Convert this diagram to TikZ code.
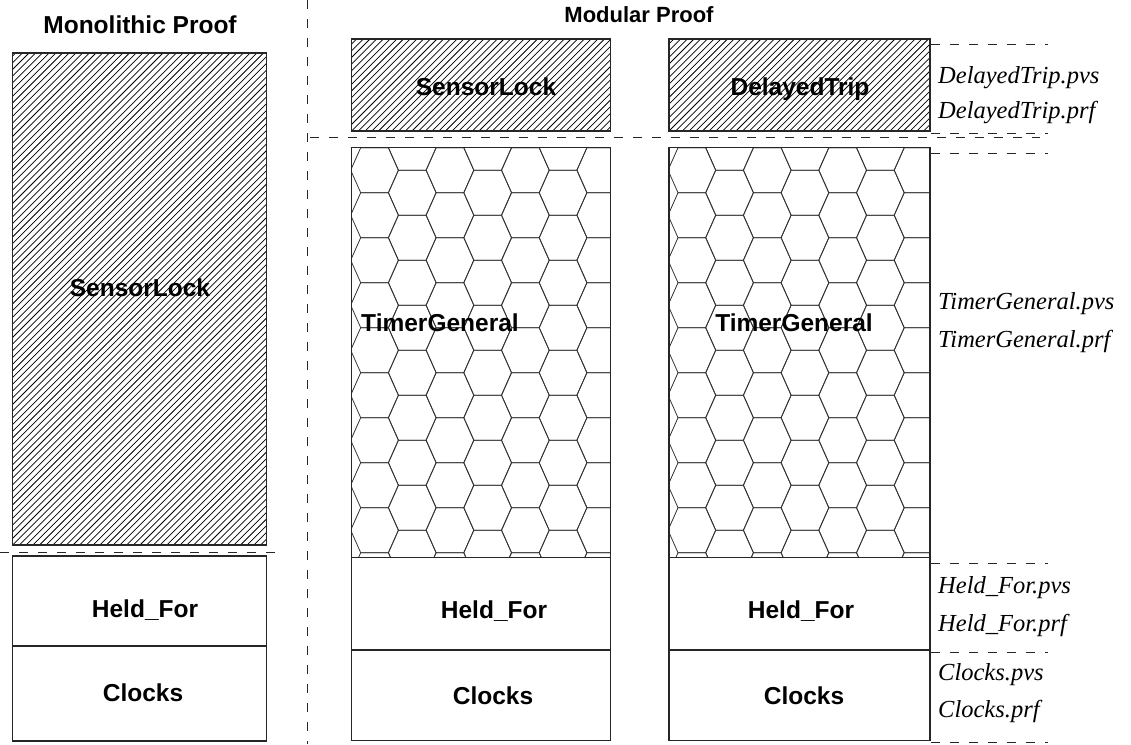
\documentclass[tikz,border=0pt]{standalone}
\usepackage{fontspec}
\setmainfont{Liberation Serif}
\newfontfamily\lsans{Liberation Sans}
\begin{document}
\begin{tikzpicture}[x=1pt, y=-1pt,
  box/.style={rectangle, draw=black!85, line width=1.2pt, inner sep=0pt, outer sep=0pt},
  hatchline/.style={line width=0.75pt, black},
  hexline/.style={line width=0.8pt, black!80},
  hatchbox/.style={box, path picture={
    \foreach \k in {-80,...,45}{
      \draw[hatchline] ([xshift=\k*6.7pt]path picture bounding box.south west) -- ++(520pt,520pt);
    }}},
  hexbox/.style={box, path picture={
    \foreach \i in {0,...,8}{
      \foreach \j in {-1,...,10}{
        \pgfmathsetmacro\hx{\i*37.7-1}
        \pgfmathsetmacro\hy{-22.5-mod(\i,2)*22.5-\j*45}
        \draw[hexline] ([shift={(\hx pt,\hy pt)}]path picture bounding box.north west)
          -- ++(10pt,22.5pt) -- ++(27.7pt,0pt) -- ++(10pt,-22.5pt)
          -- ++(-10pt,-22.5pt) -- ++(-27.7pt,0pt) -- cycle;
      }}}},
  lab/.style={font=\lsans\bfseries\fontsize{24.5}{29}\selectfont, inner sep=0pt, anchor=base},
  title/.style={font=\lsans\bfseries\fontsize{24.5}{29}\selectfont, inner sep=0pt, anchor=base},
  fname/.style={font=\itshape\fontsize{24.5}{29}\selectfont, inner sep=0pt, anchor=base west},
  sep/.style={dashed, dash pattern=on 9pt off 10pt, line width=1pt, black!85}
]
\useasboundingbox (0,0) rectangle (1131,744);

% --- monolithic column ---
\node[title] (tmono) at (140,33.3) {Monolithic Proof};
\node[hatchbox, minimum width=254pt, minimum height=492pt] (mSL) at (139.7,299) {};
\node[lab] (mSLt) at (140,296) {SensorLock};
\node[box, minimum width=254pt, minimum height=90pt] (mHF) at (139.7,601) {};
\node[box, minimum width=254pt, minimum height=95pt] (mCL) at (139.7,693.5) {};
\node[lab] (mHFt) at (145,617.7) {Held\_For};
\node[lab] (mCLt) at (143,701.7) {Clocks};

% --- modular columns ---
\node[title, font=\lsans\bfseries\fontsize{22}{26}\selectfont] (tmod) at (639,22.7) {Modular Proof};

\node[hatchbox, minimum width=259pt, minimum height=92pt] (aSL) at (481.2,85) {};
\node[lab] (aSLt) at (486,95) {SensorLock};
\node[hexbox, minimum width=259pt, minimum height=409.6pt] (aTG) at (481.2,352.5) {};
\node[lab] (aTGt) at (440,331) {TimerGeneral};
\node[box, minimum width=259pt, minimum height=92.7pt] (aHF) at (481.2,603.65) {};
\node[box, minimum width=259pt, minimum height=90.7pt] (aCL) at (481.2,695.35) {};
\node[lab] (aHFt) at (494,618) {Held\_For};
\node[lab] (aCLt) at (493,704) {Clocks};

\node[hatchbox, minimum width=261pt, minimum height=92pt] (bDT) at (799.5,85) {};
\node[lab] (bDTt) at (800,95) {DelayedTrip};
\node[hexbox, minimum width=261pt, minimum height=409.6pt] (bTG) at (799.5,352.5) {};
\node[lab] (bTGt) at (794,331) {TimerGeneral};
\node[box, minimum width=261pt, minimum height=92.7pt] (bHF) at (799.5,603.65) {};
\node[box, minimum width=261pt, minimum height=90.7pt] (bCL) at (799.5,695.35) {};
\node[lab] (bHFt) at (801,618) {Held\_For};
\node[lab] (bCLt) at (804,704) {Clocks};

% --- file names ---
\node[fname] (f1) at (938,83) {DelayedTrip.pvs};
\node[fname] (f2) at (938,118) {DelayedTrip.prf};
\node[fname] (f3) at (938,309) {TimerGeneral.pvs};
\node[fname] (f4) at (938,347) {TimerGeneral.prf};
\node[fname] (f5) at (938,593) {Held\_For.pvs};
\node[fname] (f6) at (938,631) {Held\_For.prf};
\node[fname] (f7) at (938,680) {Clocks.pvs};
\node[fname] (f8) at (938,717) {Clocks.prf};

% --- separators ---
\draw[sep] (307,0) -- (307,744);
\draw[sep] (0,552) -- (282,552);
\draw[sep] (310,137.5) -- (1040,137.5);
\foreach \yy in {44,133,153,563,652,742}
  \draw[sep] (931,\yy) -- (1048,\yy);
\end{tikzpicture}
\end{document}
